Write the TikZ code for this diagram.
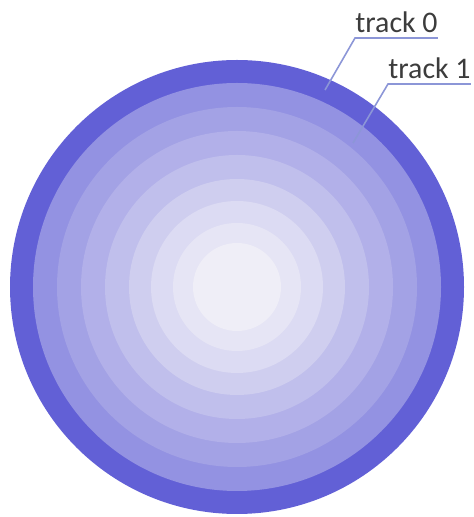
\documentclass[tikz,border=0pt]{standalone}
\usepackage{fontspec}
\setmainfont{Carlito}
\usetikzlibrary{positioning}
\definecolor{diskdark}{RGB}{98,96,214}
\definecolor{diskcore}{RGB}{243,242,248}
\definecolor{leader}{RGB}{140,150,215}
\definecolor{labelgray}{RGB}{60,60,60}

\begin{document}
\begin{tikzpicture}[
    font=\fontsize{17}{17}\selectfont,
    lbl/.style={text=labelgray, inner sep=0pt, anchor=base west},
    leaderline/.style={draw=leader, line width=0.9pt}
]
\useasboundingbox (0,0) rectangle (9.48,10.34);

% disk, outer ring first
\coordinate (c) at (4.74,4.60);
\foreach \r/\p in {4.54/100,4.08/66,3.60/55,3.12/45,2.64/35,2.16/25,1.72/16,1.28/9,0.88/3}
    \fill[diskdark!\p!diskcore] (c) circle (\r);

% labels
\node[lbl] (t0) at (7.10,9.68) {track 0};
\node[lbl] (t1) at (7.76,8.76) {track 1};
\coordinate (p0) at (6.50,8.54);
\coordinate (p1) at (7.06,7.48);

\draw[leaderline] (p0) -- ([yshift=-0.1cm]t0.base west) -- ([yshift=-0.1cm]t0.base east);
\draw[leaderline] (p1) -- ([yshift=-0.1cm]t1.base west) -- ([yshift=-0.1cm]t1.base east);

\end{tikzpicture}
\end{document}
